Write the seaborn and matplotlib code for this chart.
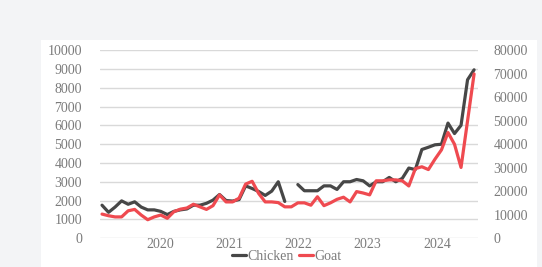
import numpy as np
import pandas as pd
import seaborn as sns
import matplotlib.pyplot as plt
from matplotlib.lines import Line2D
from matplotlib.patches import Rectangle

# values (left axis: Chicken, right axis: Goat)
chicken = [1750, 1370, 1650, 1980, 1800, 1930, 1650, 1500, 1500, 1420,
           1250, 1420, 1500, 1550, 1750, 1750, 1850, 2020, 2320, 2000,
           1970, 2050, 2780, 2640, 2480, 2270, 2500, 3000, 1950, np.nan,
           2850, 2520, 2520, 2520, 2780, 2780, 2590, 3000, 3000, 3120,
           3050, 2780, 3000, 3000, 3230, 3000, 3180, 3730, 3650, 4720,
           4840, 4970, 5000, 6130, 5570, 6010, 8440, 8970]
goat = [10200, 9500, 9000, 9000, 11600, 12200, 9800, 7800, 9000, 9800,
        8400, 11200, 12300, 12800, 14400, 13300, 12200, 13800, 18400, 15400,
        15400, 17000, 23000, 24200, 19000, 15400, 15400, 15100, 13300, 13300,
        15000, 15000, 14000, 17600, 13800, 15000, 16500, 17400, 15400, 19800,
        19200, 18400, 24400, 24400, 24800, 24800, 24400, 22200, 29600, 30400,
        29200, 33600, 37600, 45000, 40000, 30100, 50000, 70000]
year_labels = ["2020", "2021", "2022", "2023", "2024"]
year_pos = [8.9, 19.5, 30.1, 40.7, 51.3]
left_ticks = list(range(0, 10001, 1000))
right_ticks = list(range(0, 80001, 10000))

df = pd.DataFrame({"t": np.arange(len(chicken)), "Chicken": chicken, "Goat": goat})
# gaps in the Chicken series are drawn as breaks: one unit per run of values
df["seg"] = df["Chicken"].isna().cumsum()
chick = df.dropna(subset=["Chicken"])

sns.set_style("white")
plt.rcParams["font.family"] = ["Liberation Serif", "DejaVu Serif"]

c_chicken = "#474747"
c_goat = "#ef4a50"
c_text = "#7b7b7b"

fig = plt.figure(figsize=(5.42, 2.67), dpi=100, facecolor="#f3f4f6")
fig.patches.append(Rectangle((41 / 542, 0), (537 - 41) / 542, (267 - 40) / 267,
                             transform=fig.transFigure, facecolor="white",
                             edgecolor="none", zorder=-10))

ax = fig.add_axes([100 / 542, (267 - 238) / 267, 378 / 542, (238 - 50.5) / 267])
ax.set_facecolor("none")
ax2 = ax.twinx()
ax2.set_facecolor("none")

for y in left_ticks:
    ax.axhline(y, color="#d9d9d9", lw=1, zorder=0)

sns.lineplot(data=chick, x="t", y="Chicken", units="seg", estimator=None,
             color=c_chicken, lw=2.3, ax=ax, legend=False)
sns.lineplot(data=df, x="t", y="Goat", color=c_goat, lw=2.3, ax=ax2, legend=False)

for a, ticks, top in [(ax, left_ticks, 10000), (ax2, right_ticks, 80000)]:
    a.set_ylim(0, top)
    a.set_yticks(ticks)
    a.set_yticklabels([str(t) for t in ticks])
    a.set_xlim(-0.31, 57.6)
    a.set_xlabel("")
    a.set_ylabel("")
    for s in a.spines.values():
        s.set_visible(False)

ax.set_xticks(year_pos)
ax.set_xticklabels(year_labels)
ax.tick_params(axis="x", length=0, pad=0, labelsize=10, labelcolor=c_text)
ax.tick_params(axis="y", length=0, pad=13, labelsize=10, labelcolor=c_text)
ax2.tick_params(axis="y", length=0, pad=11, labelsize=10, labelcolor=c_text)

handles = [Line2D([], [], color=c_chicken, lw=2.3),
           Line2D([], [], color=c_goat, lw=2.3)]
fig.legend(handles, ["Chicken", "Goat"], loc="center", ncol=2,
           bbox_to_anchor=(287 / 542, 1 - 256 / 267), frameon=False,
           fontsize=10, handlelength=1.0, handletextpad=0.1, columnspacing=0.4,
           labelcolor=c_text)

fig.savefig("out.png", dpi=100, facecolor=fig.get_facecolor())
